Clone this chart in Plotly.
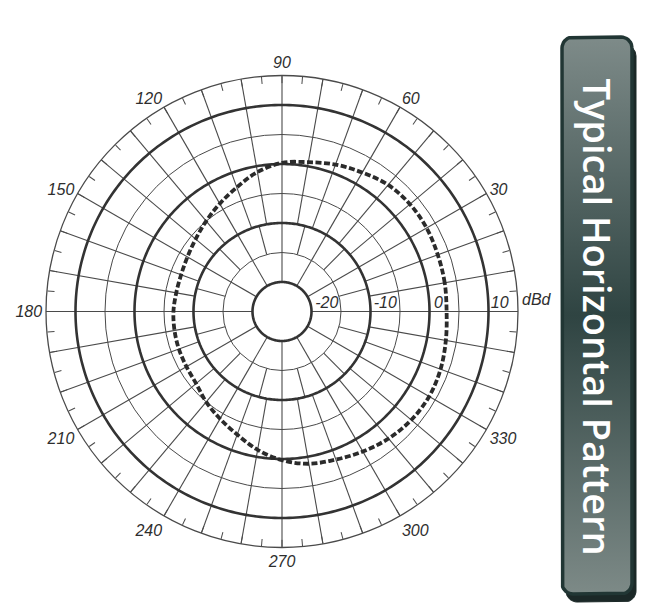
import numpy as np
import plotly.graph_objects as go

# Antenna horizontal pattern, dBd vs azimuth
pattern_deg = list(range(0, 361, 10))
pattern_db = [2.9, 3.0, 3.1, 3.3, 3.3, 3.0, 2.2, 1.5, 0.7, 0.2,
              -1.0, -2.6, -3.9, -5.0, -5.9, -6.5, -6.8, -6.8, -6.6, -6.5,
              -6.4, -6.3, -6.0, -5.0, -4.0, -2.8, -1.2, 0.2, 1.2, 1.7,
              2.4, 3.1, 3.6, 3.8, 3.6, 3.2, 2.9]

# grid definition
r_min, r_max = -25, 15
thick_rings = [-20, -10, 0, 10]
thin_rings = [-15, -5, 5]
ring_labels = ["-20", "-10", "0", "10"]
ring_label_r = [-17.4, -7.5, 1.5, 11.9]
unit_label = "dBd"
title_text = "Typical Horizontal Pattern"

W, H = 648, 614
OFF = 8  # the page puts the figure 8px in from the top-left corner
GRID = "#4a4a4a"
INK = "#2b2b2b"
label_font = dict(family="Liberation Sans", size=16, color="#2e2e2e", style="italic")

fig = go.Figure()

# spokes: 30 deg near the centre, 15 deg in the next band, 10 deg beyond
spoke_t, spoke_r = [], []
for step, r0, r1 in [(30, -20, -15), (15, -15, -10), (10, -10, r_max)]:
    for a in range(0, 360, step):
        spoke_t += [a, a, None]
        spoke_r += [r0, r1, None]
fig.add_trace(go.Scatterpolar(r=spoke_r, theta=spoke_t, mode="lines",
                              line=dict(color=GRID, width=1.1),
                              hoverinfo="skip", showlegend=False))

ring_theta = np.linspace(0, 360, 361)
for rv in thick_rings:
    fig.add_trace(go.Scatterpolar(r=[rv] * len(ring_theta), theta=ring_theta, mode="lines",
                                  line=dict(color="#333333", width=2.6),
                                  hoverinfo="skip", showlegend=False))

# measured pattern
fig.add_trace(go.Scatterpolar(r=pattern_db, theta=pattern_deg, mode="lines",
                              line=dict(color=INK, width=3.8, dash="6px,2.5px", shape="spline"),
                              showlegend=False))

# radial scale labels
fig.add_trace(go.Scatterpolar(r=ring_label_r, theta=[0] * len(ring_label_r), mode="text",
                              text=ring_labels, textposition="top center",
                              textfont=label_font, hoverinfo="skip", showlegend=False))

cx, cy, rad = 282 - OFF, 311.5 - OFF, 236
fig.update_layout(
    width=W, height=H,
    margin=dict(l=0, r=0, t=0, b=0),
    paper_bgcolor="white",
    plot_bgcolor="rgba(0,0,0,0)",
    showlegend=False,
    polar=dict(
        domain=dict(x=[(cx - rad) / W, (cx + rad) / W],
                    y=[(H - cy - rad) / H, (H - cy + rad) / H]),
        bgcolor="white",
        radialaxis=dict(range=[r_min, r_max], tickvals=thin_rings, showticklabels=False,
                        ticks="", showline=False, gridcolor=GRID, gridwidth=1.1),
        angularaxis=dict(rotation=0, direction="counterclockwise",
                         tickvals=list(range(0, 360, 5)),
                         ticktext=[str(a) if (a % 30 == 0 and a != 0) else "" for a in range(0, 360, 5)],
                         ticks="inside", ticklen=7, tickcolor=GRID, tickwidth=1.1,
                         showgrid=False, showline=True, linecolor=GRID, linewidth=1.3,
                         tickfont=dict(label_font, size=16)),
    ),
    xaxis=dict(range=[0, W], domain=[0, 1], visible=False, fixedrange=True),
    yaxis=dict(range=[0, H], domain=[0, 1], visible=False, fixedrange=True),
)

# unit next to the 10 dBd label, just outside the rim
fig.add_annotation(x=cx + rad + 2, y=H - cy + 2, xref="x", yref="y", text=unit_label,
                   showarrow=False, xanchor="left", yanchor="bottom", font=label_font)


def rounded_rect(x0, y0, x1, y1, rr):
    # closed outline of a rounded rectangle in pixel units (y up)
    xs, ys = [], []
    corners = [(x1 - rr, y1 - rr, 0), (x0 + rr, y1 - rr, 90),
               (x0 + rr, y0 + rr, 180), (x1 - rr, y0 + rr, 270)]
    for ccx, ccy, start in corners:
        t = np.radians(np.linspace(start, start + 90, 10))
        xs += list(ccx + rr * np.cos(t))
        ys += list(ccy + rr * np.sin(t))
    return xs + [xs[0]], ys + [ys[0]]


# title panel on the right
px0, px1, ptop, pbot = 562 - OFF, 632 - OFF, 37 - OFF, 594 - OFF
sx, sy = rounded_rect(px0 + 4, H - pbot - 8, px1 + 4, H - ptop - 8, 11)
fig.add_trace(go.Scatter(x=sx, y=sy, mode="lines", fill="toself", fillcolor="#1b2827",
                         line=dict(color="#1b2827", width=1), hoverinfo="skip"))
bx, by = rounded_rect(px0, H - pbot, px1, H - ptop, 11)
fig.add_trace(go.Scatter(x=bx, y=by, mode="lines", fill="toself",
                         fillgradient=dict(type="vertical",
                                           colorscale=[[0, "#7d8a87"], [0.5, "#2f4442"], [1, "#7e8b89"]]),
                         line=dict(color="#213634", width=3.5), hoverinfo="skip"))
fig.add_annotation(x=(px0 + px1) / 2 + 1, y=H - (ptop + pbot) / 2 - 1, xref="x", yref="y",
                   text=title_text, showarrow=False, textangle=90,
                   font=dict(family="Open Sans", size=38, color="white", weight=600))

fig.write_html("out.html")
